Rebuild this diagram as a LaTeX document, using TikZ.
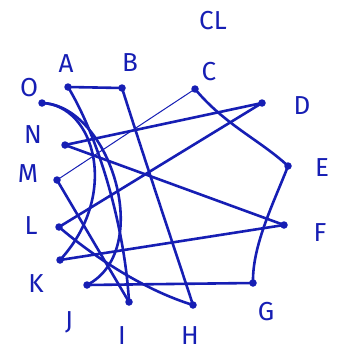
\documentclass[tikz,border=0pt]{standalone}
\usepackage{fontspec}
\setmainfont{Fira Sans}
\definecolor{ink}{RGB}{22,30,180}
\begin{document}
\begin{tikzpicture}[x=1pt,y=-1pt,
  vtx/.style={circle,fill=ink,inner sep=0pt,minimum size=7.5pt},
  lbl/.style={text=ink,font=\fontsize{26}{26}\selectfont,inner sep=0pt},
  edge/.style={draw=ink,line width=2.6pt,line cap=round},
  thinedge/.style={draw=ink,line width=1pt,line cap=round}]
\useasboundingbox[fill=white] (0,0) rectangle (338,353);
% vertices
\node[vtx] (A) at (68,87) {};
\node[vtx] (B) at (122,88) {};
\node[vtx] (C) at (195,89) {};
\node[vtx] (D) at (262,103) {};
\node[vtx] (E) at (288,166) {};
\node[vtx] (F) at (284,225) {};
\node[vtx] (G) at (253,283) {};
\node[vtx] (H) at (193,305) {};
\node[vtx] (I) at (129,302) {};
\node[vtx] (J) at (87,285) {};
\node[vtx] (K) at (60,260) {};
\node[vtx] (L) at (59,227) {};
\node[vtx] (M) at (57,180) {};
\node[vtx] (N) at (65,145) {};
\node[vtx] (O) at (42,103) {};
% labels
\node[lbl] (tCL) at (213,21) {CL};
\node[lbl] (tA) at (66,64) {A};
\node[lbl] (tB) at (130,63) {B};
\node[lbl] (tC) at (209,72) {C};
\node[lbl] (tD) at (302,106) {D};
\node[lbl] (tE) at (322,168) {E};
\node[lbl] (tF) at (320,233) {F};
\node[lbl] (tG) at (266,312) {G};
\node[lbl] (tH) at (190,336) {H};
\node[lbl] (tI) at (122,336) {I};
\node[lbl] (tJ) at (69,322) {J};
\node[lbl] (tK) at (36,284) {K};
\node[lbl] (tL) at (31,226) {L};
\node[lbl] (tM) at (28,174) {M};
\node[lbl] (tN) at (33,135) {N};
\node[lbl] (tO) at (29,88) {O};
% edges
\draw[edge] (A.center) -- (B.center);
\draw[edge] (A.center) .. controls (100,140) and (125,230) .. (I.center);
\draw[edge] (B.center) .. controls (148,170) and (175,250) .. (H.center);
\draw[edge] (C.center) .. controls (225,125) and (260,140) .. (E.center);
\draw[thinedge] (C.center) -- (M.center);
\draw[edge] (D.center) -- (N.center);
\draw[edge] (D.center) -- (L.center);
\draw[edge] (E.center) .. controls (275,200) and (252,245) .. (G.center);
\draw[edge] (N.center) -- (F.center);
\draw[edge] (K.center) -- (F.center);
\draw[edge] (O.center) .. controls (95,105) and (120,195) .. (K.center);
\draw[edge] (O.center) .. controls (110,105) and (155,250) .. (J.center);
\draw[edge] (J.center) -- (G.center);
\draw[edge] (L.center) .. controls (100,262) and (150,292) .. (H.center);
\draw[edge] (M.center) -- (I.center);
\end{tikzpicture}
\end{document}
